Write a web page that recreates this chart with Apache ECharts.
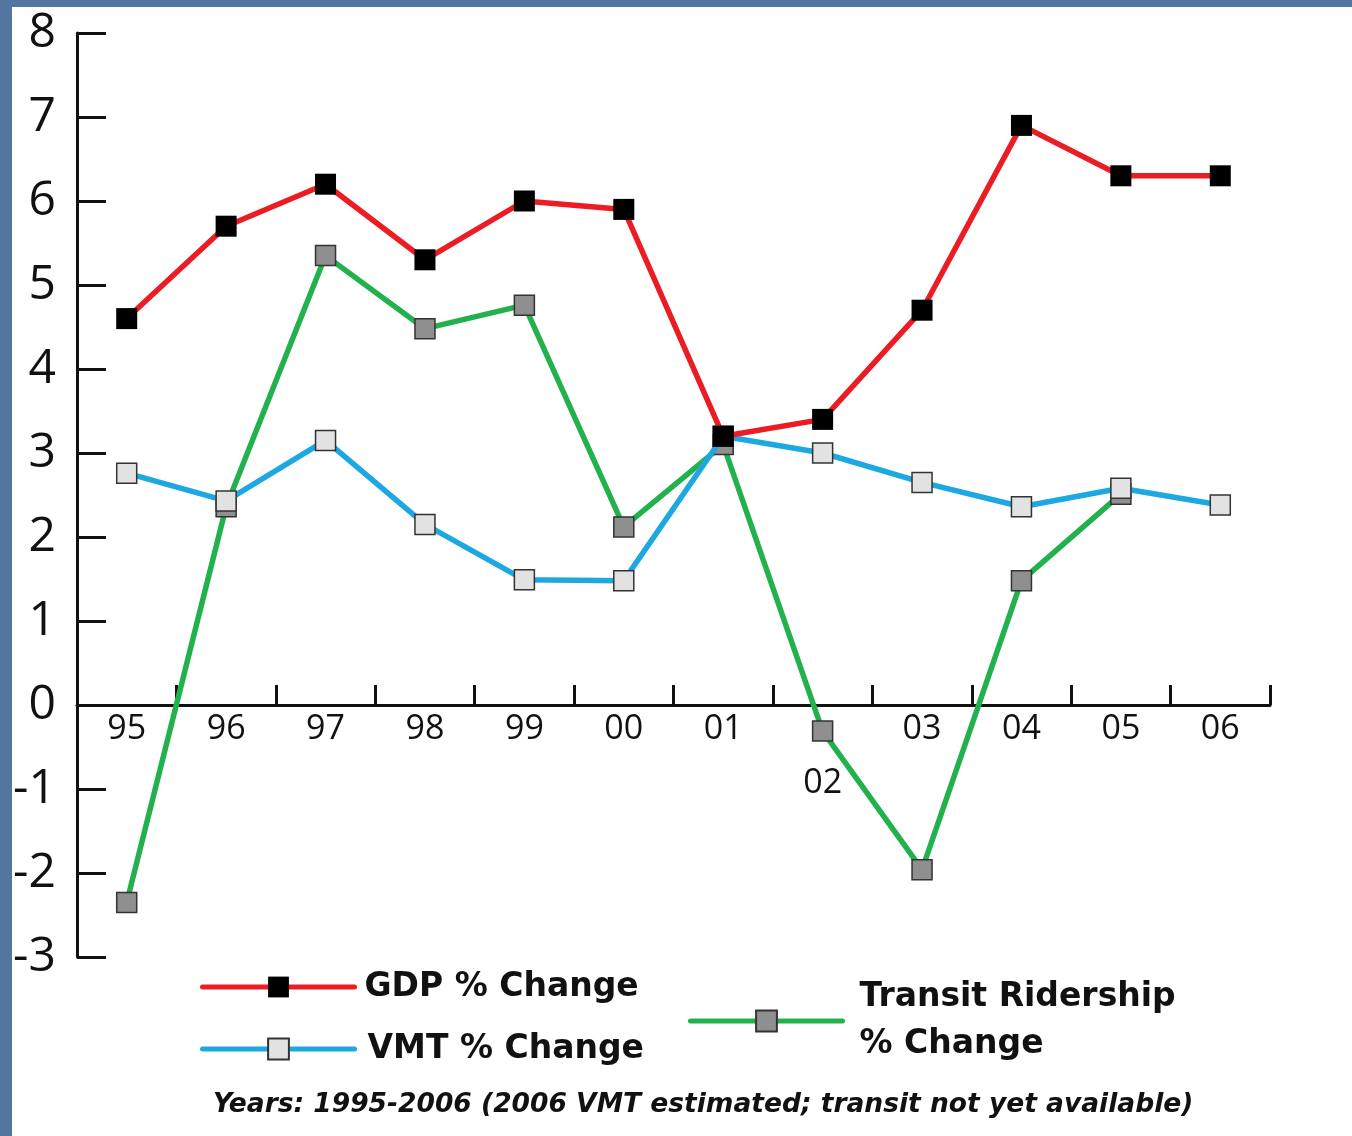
<!DOCTYPE html>
<html>
<head>
<meta charset="utf-8">
<script src="https://cdn.jsdelivr.net/npm/echarts@6/dist/echarts.min.js"></script>
<style>
  html, body { margin: 0; padding: 0; background: #52769f; }
  #chart { width: 1352px; height: 1136px; }
</style>
</head>
<body>
<div id="chart"></div>
<script>
// Year categories (two-digit) along the x axis
const years = ['95', '96', '97', '98', '99', '00', '01', '02', '03', '04', '05', '06'];
// Year labels pushed below the axis so they clear a marker
const loweredYearLabels = ['02'];

// Annual % change values
const gdpChange = [4.6, 5.7, 6.2, 5.3, 6.0, 5.9, 3.2, 3.4, 4.7, 6.9, 6.3, 6.3];
const vmtChange = [2.76, 2.43, 3.15, 2.15, 1.49, 1.48, 3.2, 3.0, 2.65, 2.36, 2.58, 2.38];
const transitChange = [-2.35, 2.36, 5.35, 4.48, 4.76, 2.12, 3.1, -0.31, -1.96, 1.48, 2.51, null];

// Value axis range and step
const yMin = -3;
const yMax = 8;
const yStep = 1;

const gdpName = 'GDP % Change';
const vmtName = 'VMT % Change';
const transitName = 'Transit Ridership\n% Change';
const footnote = 'Years: 1995-2006 (2006 VMT estimated; transit not yet available)';

const RED = '#ec1c24';
const BLUE = '#1da8e2';
const GREEN = '#23b14d';
const INK = '#111111';

const W = 1352, H = 1136;
const grid = { left: 77, right: 82, top: 33, bottom: 179 };
// The category axis sits on the zero line: shift it up from the grid bottom
const gridHeight = H - grid.top - grid.bottom;
const zeroOffset = -gridHeight * (0 - yMin) / (yMax - yMin);

const chart = echarts.init(document.getElementById('chart'), null, { renderer: 'canvas' });

const legendText = {
  fontFamily: 'DejaVu Sans, sans-serif',
  fontWeight: 'bold',
  fontSize: 33,
  lineHeight: 40,
  color: INK,
  padding: [0, 0, 0, 5]
};
const legendBase = {
  orient: 'vertical',
  padding: 0,
  itemWidth: 152,
  itemHeight: 26,
  selectedMode: false,
  lineStyle: { width: 5, cap: 'round' }
};

chart.setOption({
  backgroundColor: '#52769f',
  animation: false,
  graphic: [
    {
      type: 'rect',
      z: -10,
      shape: { x: 12, y: 7, width: W - 12, height: H - 7 },
      style: { fill: '#ffffff' }
    },
    {
      type: 'text',
      left: 213,
      top: 1092,
      style: {
        text: footnote,
        font: 'italic bold 26.5px "DejaVu Sans", sans-serif',
        fill: INK
      }
    }
  ],
  grid: Object.assign({ containLabel: false }, grid),
  xAxis: {
    type: 'category',
    data: years,
    boundaryGap: true,
    offset: zeroOffset,
    axisLine: { onZero: false, lineStyle: { color: INK, width: 3 } },
    axisTick: { show: true, inside: true, length: 20, interval: 0, lineStyle: { color: INK, width: 3 } },
    axisLabel: {
      interval: 0,
      margin: 7,
      fontFamily: 'Open Sans, Noto Sans, sans-serif',
      fontSize: 34,
      color: INK,
      formatter: v => loweredYearLabels.includes(v) ? '{low|' + v + '}' : v,
      rich: {
        low: { fontFamily: 'Open Sans, Noto Sans, sans-serif', fontSize: 34, color: INK, padding: [54, 0, 0, 0] }
      }
    },
    splitLine: { show: false }
  },
  yAxis: {
    type: 'value',
    min: yMin,
    max: yMax,
    interval: yStep,
    axisLine: { show: true, lineStyle: { color: INK, width: 3 } },
    axisTick: { show: true, inside: true, length: 29, lineStyle: { color: INK, width: 3 } },
    axisLabel: {
      margin: 21,
      fontFamily: 'Open Sans, Noto Sans, sans-serif',
      fontSize: 48,
      padding: [8, 0, 0, 0],
      color: INK
    },
    splitLine: { show: false }
  },
  legend: [
    Object.assign({}, legendBase, { data: [gdpName], left: 200, top: 967, textStyle: legendText }),
    Object.assign({}, legendBase, {
      data: [vmtName], left: 200, top: 1029,
      textStyle: Object.assign({}, legendText, { padding: [0, 0, 0, 8] })
    }),
    Object.assign({}, legendBase, {
      data: [transitName], left: 688, top: 974,
      textStyle: Object.assign({}, legendText, { lineHeight: 47, padding: [0, 0, 0, 12] })
    })
  ],
  series: [
    {
      name: transitName,
      type: 'line',
      z: 2,
      data: transitChange,
      symbol: 'rect',
      symbolSize: 20,
      lineStyle: { color: GREEN, width: 5.5 },
      itemStyle: { color: '#8f8f8f', borderColor: '#333333', borderWidth: 1.5 }
    },
    {
      name: vmtName,
      type: 'line',
      z: 3,
      data: vmtChange,
      symbol: 'rect',
      symbolSize: 20,
      lineStyle: { color: BLUE, width: 5.5 },
      itemStyle: { color: '#e2e2e2', borderColor: '#333333', borderWidth: 1.5 }
    },
    {
      name: gdpName,
      type: 'line',
      z: 4,
      data: gdpChange,
      symbol: 'rect',
      symbolSize: 21,
      lineStyle: { color: RED, width: 5.5 },
      itemStyle: { color: '#000000', borderColor: '#000000', borderWidth: 0 }
    }
  ]
});
</script>
</body>
</html>
